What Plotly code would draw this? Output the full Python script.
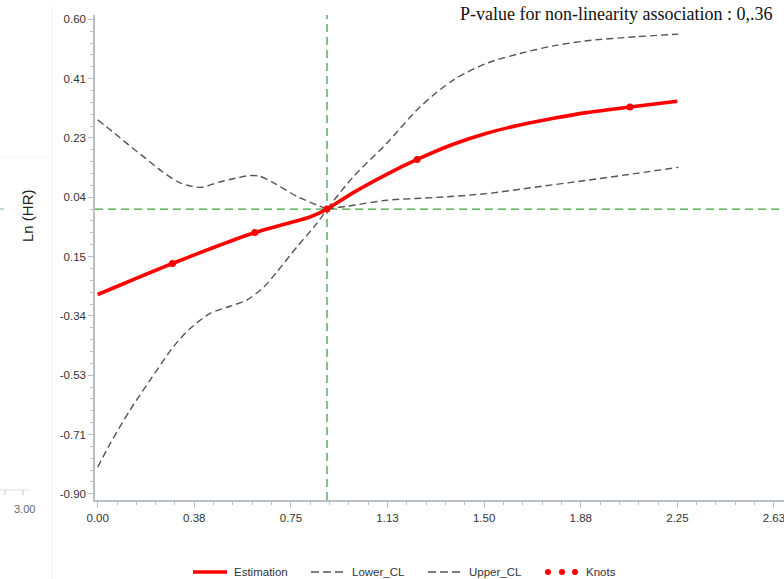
import plotly.graph_objects as go

# ---- data -------------------------------------------------------------
ref_x = 0.89  # reference value (ln HR = 0)

est_x = [0.0, 0.10, 0.20, 0.29, 0.40, 0.50, 0.61, 0.746, 0.824, 0.89,
         0.992, 1.122, 1.24, 1.38, 1.51, 1.639, 1.769, 1.898, 2.066, 2.25]
est_y = [-0.270, -0.236, -0.202, -0.172, -0.137, -0.106, -0.074, -0.043, -0.025, 0.0,
         0.052, 0.110, 0.157, 0.205, 0.240, 0.266, 0.287, 0.305, 0.323, 0.341]

upper_left_x = [0.0, 0.056, 0.120, 0.185, 0.250, 0.314, 0.366, 0.405, 0.470, 0.521,
                0.591, 0.630, 0.681, 0.774, 0.89]
upper_left_y = [0.282, 0.246, 0.203, 0.161, 0.119, 0.085, 0.072, 0.069, 0.085, 0.095,
                0.106, 0.104, 0.084, 0.040, 0.0]
upper_right_x = [0.89, 0.992, 1.122, 1.251, 1.38, 1.51, 1.639, 1.769, 1.898, 2.092, 2.254]
upper_right_y = [0.0, 0.102, 0.208, 0.323, 0.408, 0.461, 0.492, 0.516, 0.532, 0.545, 0.553]

lower_left_x = [0.0, 0.048, 0.125, 0.203, 0.293, 0.358, 0.436, 0.514, 0.578, 0.643, 0.695, 0.773, 0.85, 0.89]
lower_left_y = [-0.816, -0.742, -0.636, -0.541, -0.436, -0.378, -0.330, -0.307, -0.288, -0.248,
                -0.199, -0.120, -0.046, 0.0]
lower_right_x = [0.89, 0.992, 1.122, 1.316, 1.51, 1.704, 1.898, 2.092, 2.254]
lower_right_y = [0.0, 0.012, 0.028, 0.037, 0.049, 0.070, 0.091, 0.113, 0.132]

knot_x = [0.29, 0.61, 0.89, 1.24, 2.066]
knot_y = [-0.172, -0.074, 0.0, 0.157, 0.323]

x_tickvals = [0.0, 0.375, 0.75, 1.125, 1.5, 1.875, 2.25, 2.625]
x_ticktext = ["0.00", "0.38", "0.75", "1.13", "1.50", "1.88", "2.25", "2.63"]
y_tickvals = [0.6, 0.4125, 0.225, 0.0375, -0.15, -0.3375, -0.525, -0.7125, -0.9]
y_ticktext = ["0.60", "0.41", "0.23", "0.04", "0.15", "-0.34", "-0.53", "-0.71", "-0.90"]

title_text = "P-value for non-linearity association : 0,.36"
legend_labels = ["Estimation", "Lower_CL", "Upper_CL", "Knots"]

# ---- figure geometry --------------------------------------------------
W, H = 784, 579
ML, MR, MT, MB = 95, 0, 15, 79
X_RANGE = [-0.0105, 2.664]
Y_RANGE = [-0.9196, 0.6136]


def px(x):
    return (x - ML) / (W - ML - MR)


def py(y):
    return (H - MB - y) / (H - MT - MB)


RED = "#ff0000"
GRAY = "#555555"
GREEN = "#3aa63a"
AXIS = "#b9bfc6"
TXT = "#333333"
CL_DASH = "7px,4px"

fig = go.Figure()

# reference lines
fig.add_hline(y=0, line=dict(color=GREEN, width=1.3, dash="8px,5px"), layer="below")
fig.add_vline(x=ref_x, line=dict(color=GREEN, width=1.3, dash="8px,5px"), layer="below")

cl_line = dict(color=GRAY, width=1.4, dash=CL_DASH, shape="spline", smoothing=0.8)
for xs, ys, name in [(upper_left_x, upper_left_y, "Upper_CL"),
                     (upper_right_x, upper_right_y, "Upper_CL"),
                     (lower_left_x, lower_left_y, "Lower_CL"),
                     (lower_right_x, lower_right_y, "Lower_CL")]:
    fig.add_trace(go.Scatter(x=xs, y=ys, mode="lines", name=name, line=cl_line,
                             showlegend=False, hoverinfo="skip"))

fig.add_trace(go.Scatter(x=est_x, y=est_y, mode="lines", name="Estimation",
                         line=dict(color=RED, width=3.6, shape="spline", smoothing=0.8),
                         showlegend=False))
fig.add_trace(go.Scatter(x=knot_x, y=knot_y, mode="markers", name="Knots",
                         marker=dict(color=RED, size=7), showlegend=False))

fig.update_xaxes(
    range=X_RANGE, showgrid=False, zeroline=False,
    showline=True, linecolor=AXIS, linewidth=1.5,
    tickmode="array", tickvals=x_tickvals, ticktext=x_ticktext,
    ticks="outside", ticklen=6, tickwidth=1, tickcolor=AXIS,
    ticklabeloverflow="allow",
    tickfont=dict(family="Liberation Sans, Arial", size=11.5, color=TXT),
    minor=dict(ticks="outside", ticklen=3, tickcolor=AXIS, dtick=0.075, tick0=0, showgrid=False),
)
fig.update_yaxes(
    range=Y_RANGE, showgrid=False, zeroline=False,
    showline=True, linecolor=AXIS, linewidth=1.5,
    tickmode="array", tickvals=y_tickvals, ticktext=y_ticktext,
    ticks="outside", ticklen=5, tickwidth=1, tickcolor=AXIS,
    tickfont=dict(family="Liberation Sans, Arial", size=11.5, color=TXT),
    minor=dict(ticks="outside", ticklen=3, tickcolor=AXIS, dtick=0.0375, tick0=0, showgrid=False),
)

annotations = [
    dict(text=title_text, xref="paper", yref="paper", x=px(774), y=py(14),
         xanchor="right", yanchor="middle", showarrow=False,
         font=dict(family="Liberation Serif, Times New Roman", size=18, color="#111111")),
    dict(text="Ln (HR)", xref="paper", yref="paper", x=px(27), y=py(216),
         xanchor="center", yanchor="middle", textangle=-90, showarrow=False,
         font=dict(family="Liberation Sans, Arial", size=15, color="#222222")),
    dict(text="3.00", xref="paper", yref="paper", x=px(24), y=py(509),
         xanchor="center", yanchor="middle", showarrow=False,
         font=dict(family="Liberation Sans, Arial", size=11, color="#666666")),
]

# legend row
leg_font = dict(family="Liberation Sans, Arial", size=11.5, color=TXT)
leg_y = py(572)
for label, tx in zip(legend_labels, [232, 350, 467, 584]):
    annotations.append(dict(text=label, xref="paper", yref="paper", x=px(tx), y=leg_y,
                            xanchor="left", yanchor="middle", showarrow=False, font=leg_font))

shapes = [
    dict(type="line", xref="paper", yref="paper", x0=px(193), x1=px(227), y0=leg_y, y1=leg_y,
         line=dict(color=RED, width=3.4)),
    dict(type="line", xref="paper", yref="paper", x0=px(311), x1=px(343), y0=leg_y, y1=leg_y,
         line=dict(color=GRAY, width=1.4, dash="8px,4px")),
    dict(type="line", xref="paper", yref="paper", x0=px(428), x1=px(460), y0=leg_y, y1=leg_y,
         line=dict(color=GRAY, width=1.4, dash="8px,4px")),
]
for cx in [548, 562, 575]:
    shapes.append(dict(type="circle", xref="paper", yref="paper",
                       x0=px(cx - 3), x1=px(cx + 3), y0=py(572 + 3), y1=py(572 - 3),
                       fillcolor=RED, line=dict(width=0)))

# faint remnants of the adjoining panel on the left
faint = "#e6e6e6"
shapes += [
    dict(type="line", xref="paper", yref="paper", x0=px(52), x1=px(52), y0=py(6), y1=py(579),
         line=dict(color="#f0f0f0", width=1)),
    dict(type="line", xref="paper", yref="paper", x0=px(0), x1=px(52), y0=py(157), y1=py(157),
         line=dict(color="#f4f4f4", width=1)),
    dict(type="line", xref="paper", yref="paper", x0=px(0), x1=px(30), y0=py(490), y1=py(490),
         line=dict(color=faint, width=1.2)),
    dict(type="line", xref="paper", yref="paper", x0=px(5), x1=px(5), y0=py(490), y1=py(495),
         line=dict(color="#cccccc", width=1)),
    dict(type="line", xref="paper", yref="paper", x0=px(23), x1=px(23), y0=py(490), y1=py(495),
         line=dict(color="#cccccc", width=1)),
    dict(type="line", xref="paper", yref="paper", x0=px(0), x1=px(4), y0=py(209), y1=py(209),
         line=dict(color="#9ccf9c", width=1.2)),
]

fig.update_layout(
    width=W, height=H,
    margin=dict(l=ML, r=MR, t=MT, b=MB),
    paper_bgcolor="white", plot_bgcolor="white",
    showlegend=False,
    annotations=annotations,
    shapes=fig.layout.shapes + tuple(shapes),
)

fig.write_html("out.html")
